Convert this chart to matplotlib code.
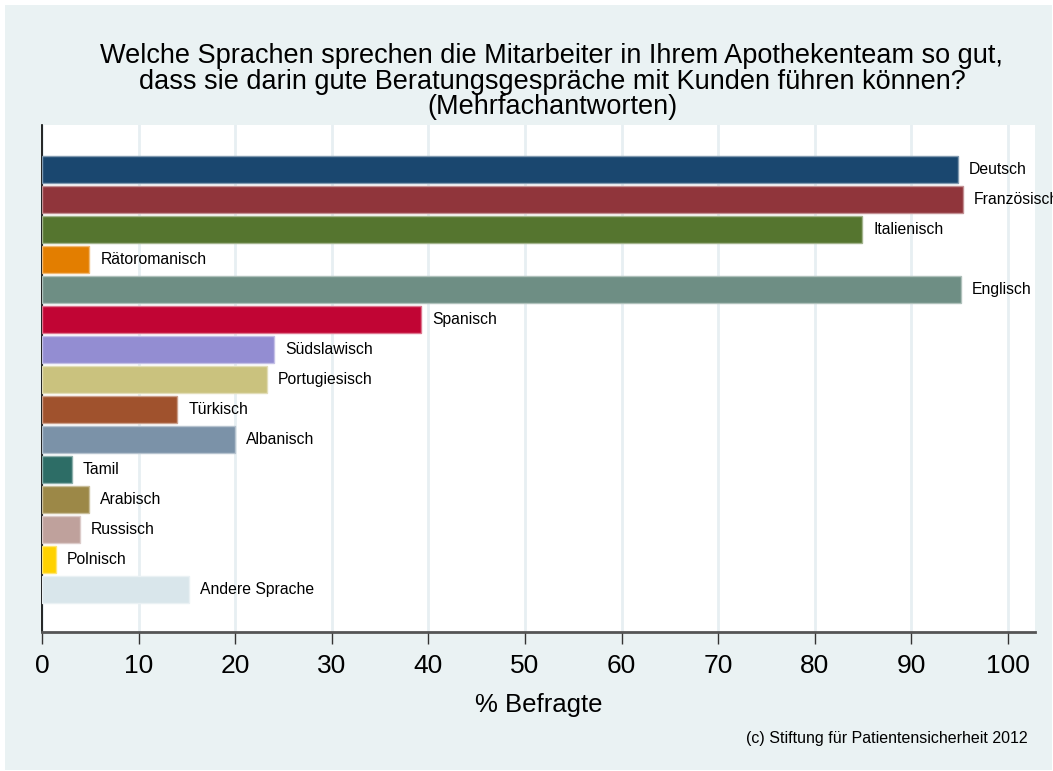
import matplotlib.pyplot as plt
import numpy as np
from matplotlib.colors import to_rgb
from matplotlib.patches import Rectangle

plt.rcParams['font.family'] = ['Liberation Sans', 'DejaVu Sans']

# data
languages = ["Deutsch", "Französisch", "Italienisch", "Rätoromanisch", "Englisch",
             "Spanisch", "Südslawisch", "Portugiesisch", "Türkisch", "Albanisch",
             "Tamil", "Arabisch", "Russisch", "Polnisch", "Andere Sprache"]
percent = [94.8, 95.3, 84.9, 4.9, 95.1,
           39.2, 24.0, 23.3, 14.0, 20.0,
           3.1, 4.9, 3.9, 1.4, 15.2]
colors = ["#1a476f", "#90353b", "#55752f", "#e37e00", "#6e8e84",
          "#c10534", "#938dd2", "#cac27e", "#a0522d", "#7b92a8",
          "#2d6d66", "#9c8847", "#bfa19c", "#ffd200", "#d9e6eb"]
xticks = list(range(0, 101, 10))

BG = "#eaf2f3"
W, H = 1053, 771

fig = plt.figure(figsize=(W / 100, H / 100), dpi=100, facecolor="white")
# graph region background (drawn below the axes)
fig.patches.append(Rectangle((5 / W, 1 / H), (W - 6) / W, (H - 6) / H,
                             transform=fig.transFigure, facecolor=BG,
                             edgecolor="none", zorder=-10))

ax = fig.add_axes([42 / W, 1 - 632 / H, 993 / W, 507 / H])
ax.set_facecolor("white")

y = np.arange(len(languages))
# outlines are a lighter shade of the fill, like Stata draws them
edges = [tuple(0.55 * np.array(to_rgb(c)) + 0.45) for c in colors]
ax.barh(y, percent, height=0.9, color=colors, edgecolor=edges, linewidth=1,
        zorder=3)

for yi, v, name in zip(y, percent, languages):
    ax.text(v + 1.15, yi, name, va="center", ha="left", fontsize=11.3,
            zorder=4, clip_on=False)

ax.set_xlim(0, 102.8)
ax.set_ylim(len(languages) - 1 + 1.42, -1.5)
ax.set_yticks([])
ax.set_xticks(xticks)
ax.tick_params(axis="x", length=8.6, width=1, color="#333333", pad=7,
               labelsize=19)
ax.grid(True, axis="x", color="#e7eff2", linewidth=2, zorder=0)

for s in ["top", "right"]:
    ax.spines[s].set_visible(False)
ax.spines["left"].set_color("black")
ax.spines["left"].set_linewidth(1.2)
ax.spines["bottom"].set_color("#555555")
ax.spines["bottom"].set_linewidth(2)

ax.set_xlabel("% Befragte", fontsize=18.5, labelpad=11)

fig.text(552 / W, 1 - 43 / H,
         "Welche Sprachen sprechen die Mitarbeiter in Ihrem Apothekenteam so gut,\n"
         "dass sie darin gute Beratungsgespräche mit Kunden führen können?\n"
         "(Mehrfachantworten)",
         ha="center", va="top", fontsize=19.5, linespacing=0.98)

fig.text(1028 / W, 1 - 743 / H, "(c) Stiftung für Patientensicherheit 2012",
         ha="right", va="baseline", fontsize=11.5)

fig.savefig("out.png", dpi=100, facecolor="white")
